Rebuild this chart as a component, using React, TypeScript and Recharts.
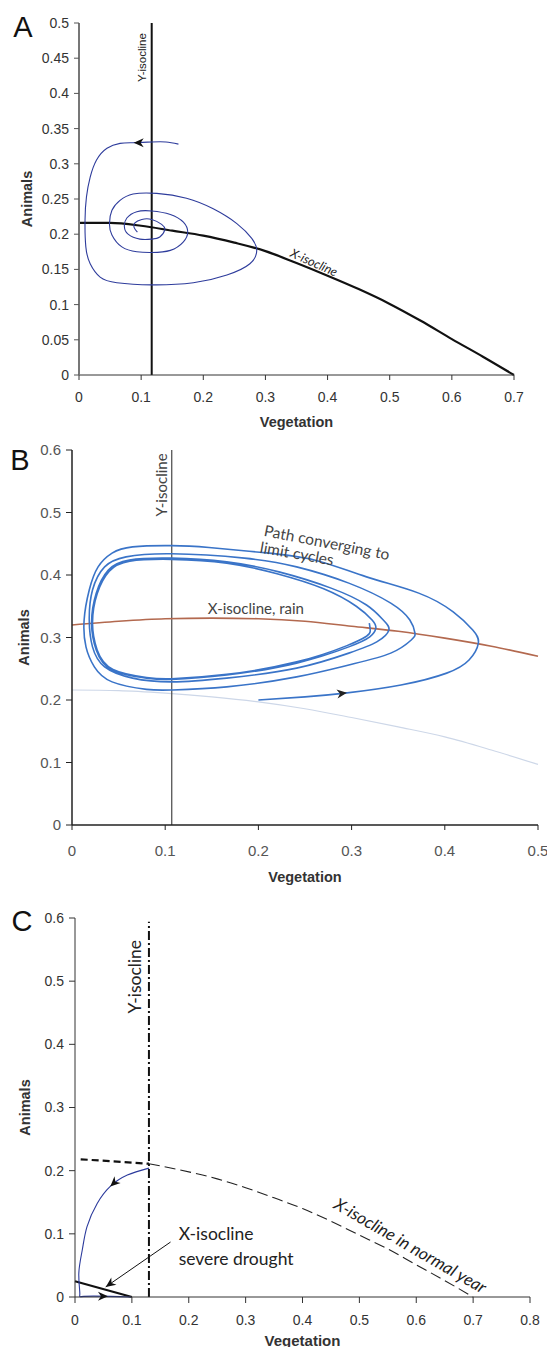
import React from "react";
import { ComposedChart, Line, XAxis, YAxis, ReferenceDot, ReferenceLine } from "recharts";

const ARIAL = "'Liberation Sans', Arial, sans-serif";
const MYRIAD = "Lato, 'Open Sans', sans-serif";

// ---- Panel A
const vegTicksA = [0, 0.1, 0.2, 0.3, 0.4, 0.5, 0.6, 0.7];
const aniTicksA = [0, 0.05, 0.1, 0.15, 0.2, 0.25, 0.3, 0.35, 0.4, 0.45, 0.5];
const yIsoA = 0.117;
const xIsoVegA = [0, 0.05, 0.1, 0.15, 0.2, 0.25, 0.3, 0.35, 0.4, 0.45, 0.5, 0.55, 0.6, 0.65, 0.7];
const xIsoAniA = [0.216, 0.216, 0.212, 0.205, 0.198, 0.188, 0.176, 0.159, 0.141, 0.122, 0.101, 0.077, 0.051, 0.026, 0];
const spiralVegA = [
  0.16, 0.14, 0.117, 0.087, 0.066, 0.045, 0.028, 0.018, 0.012, 0.0097, 0.011, 0.018, 0.034, 0.061, 0.117,
  0.184, 0.238, 0.275, 0.286, 0.278, 0.254, 0.216, 0.173, 0.125, 0.087, 0.066, 0.053, 0.049, 0.053, 0.069,
  0.093, 0.117, 0.147, 0.168, 0.175, 0.168, 0.147, 0.117, 0.093, 0.077, 0.073, 0.079, 0.098, 0.117, 0.13,
  0.138, 0.133, 0.117, 0.101, 0.09, 0.089, 0.094,
];
const spiralAniA = [
  0.328, 0.331, 0.331, 0.33, 0.329, 0.322, 0.305, 0.281, 0.253, 0.22, 0.182, 0.158, 0.139, 0.131, 0.128,
  0.131, 0.142, 0.158, 0.177, 0.194, 0.215, 0.236, 0.251, 0.258, 0.257, 0.248, 0.234, 0.215, 0.199, 0.182,
  0.175, 0.174, 0.177, 0.189, 0.203, 0.217, 0.228, 0.233, 0.232, 0.223, 0.211, 0.2, 0.193, 0.193, 0.196,
  0.206, 0.214, 0.221, 0.221, 0.216, 0.209, 0.203,
];

// ---- Panel B
const vegTicksB = [0, 0.1, 0.2, 0.3, 0.4, 0.5];
const aniTicksB = [0, 0.1, 0.2, 0.3, 0.4, 0.5, 0.6];
const yIsoB = 0.107;
const rainVegB = [0, 0.05, 0.1, 0.15, 0.2, 0.25, 0.3, 0.35, 0.4, 0.45, 0.5];
const rainAniB = [0.32, 0.326, 0.33, 0.331, 0.33, 0.326, 0.318, 0.31, 0.299, 0.286, 0.27];
const normalVegB = [0, 0.05, 0.1, 0.15, 0.2, 0.25, 0.3, 0.35, 0.4, 0.45, 0.5];
const normalAniB = [0.216, 0.215, 0.211, 0.205, 0.197, 0.186, 0.172, 0.157, 0.141, 0.12, 0.097];
const pathVegB = [
  0.2, 0.25, 0.293, 0.353, 0.402, 0.426, 0.436, 0.43, 0.409, 0.372, 0.316, 0.26, 0.204, 0.147, 0.107,
  0.065, 0.043, 0.028, 0.0185, 0.013, 0.015, 0.024, 0.043, 0.08, 0.107, 0.166, 0.241, 0.297, 0.342, 0.364,
  0.368, 0.3625, 0.342, 0.297, 0.241, 0.185, 0.107, 0.058, 0.035, 0.022, 0.0185, 0.022, 0.035, 0.065, 0.107,
  0.166, 0.241, 0.297, 0.327, 0.34, 0.334, 0.316, 0.278, 0.222, 0.166, 0.107, 0.0615, 0.039, 0.026, 0.021,
  0.026, 0.043, 0.08, 0.107, 0.166, 0.241, 0.297, 0.3195, 0.326, 0.322, 0.305, 0.27, 0.22, 0.166, 0.107,
  0.062, 0.04, 0.027, 0.022, 0.027, 0.044, 0.08, 0.107, 0.166, 0.241, 0.295, 0.316, 0.32, 0.319,
];
const pathAniB = [
  0.2, 0.205, 0.211, 0.224, 0.243, 0.264, 0.291, 0.312, 0.341, 0.371, 0.397, 0.424, 0.436, 0.444, 0.447,
  0.445, 0.435, 0.413, 0.376, 0.328, 0.285, 0.253, 0.229, 0.217, 0.216, 0.221, 0.237, 0.256, 0.275, 0.296,
  0.307, 0.328, 0.355, 0.387, 0.413, 0.427, 0.434, 0.429, 0.413, 0.376, 0.328, 0.285, 0.253, 0.235, 0.229,
  0.235, 0.251, 0.275, 0.293, 0.312, 0.328, 0.352, 0.379, 0.405, 0.421, 0.427, 0.424, 0.408, 0.371, 0.323,
  0.28, 0.248, 0.235, 0.233, 0.24, 0.259, 0.285, 0.301, 0.315, 0.328, 0.35, 0.378, 0.402, 0.419, 0.425,
  0.422, 0.406, 0.37, 0.323, 0.28, 0.249, 0.236, 0.234, 0.241, 0.261, 0.287, 0.302, 0.31, 0.323,
];

// ---- Panel C
const vegTicksC = [0, 0.1, 0.2, 0.3, 0.4, 0.5, 0.6, 0.7, 0.8];
const aniTicksC = [0, 0.1, 0.2, 0.3, 0.4, 0.5, 0.6];
const yIsoC = 0.13;
const yIsoTopC = 0.594;
const flatVegC = [0.01, 0.13];
const flatAniC = [0.218, 0.211];
const normalVegC = [0.13, 0.18, 0.25, 0.3, 0.35, 0.4, 0.45, 0.5, 0.55, 0.6, 0.65, 0.7];
const normalAniC = [0.211, 0.202, 0.187, 0.173, 0.157, 0.14, 0.12, 0.098, 0.076, 0.051, 0.026, 0];
const droughtVegC = [0, 0.1];
const droughtAniC = [0.025, 0];
const pathVegC = [0.13, 0.092, 0.062, 0.039, 0.021, 0.0127, 0.0067, 0.0085, 0.0155, 0.062, 0.098];
const pathAniC = [0.204, 0.193, 0.175, 0.148, 0.111, 0.074, 0.037, 0.005, 0.001, 0.001, 0];

const pts = (vs: number[], as: number[]) => vs.map((v, i) => ({ v, a: as[i] }));

const tickStyle = (size: number, fill = "#333") => ({ fill, fontSize: size, fontFamily: ARIAL });

const xTitle = (dy: number, size: number) => (p: any) => {
  const { x, y, width } = p.viewBox;
  return (
    <text x={x + width / 2} y={y + dy} textAnchor="middle" dominantBaseline="central"
      fontFamily={ARIAL} fontWeight="bold" fontSize={size} fill="#333">Vegetation</text>
  );
};

const yTitle = (dx: number, size: number) => (p: any) => {
  const { x, y, width, height } = p.viewBox;
  const cx = x + width - dx;
  const cy = y + height / 2;
  return (
    <text x={cx} y={cy} transform={`rotate(-90 ${cx} ${cy})`} textAnchor="middle" dominantBaseline="central"
      fontFamily={ARIAL} fontWeight="bold" fontSize={size} fill="#333">Animals</text>
  );
};

type NoteOpts = { rot?: number; size: number; color?: string; italic?: boolean; family?: string; anchor?: "start" | "middle" | "end" };
const note = (text: string, o: NoteOpts) => (p: any) => (
  <text x={p.cx} y={p.cy} transform={o.rot ? `rotate(${o.rot} ${p.cx} ${p.cy})` : undefined}
    textAnchor={o.anchor ?? "middle"} dominantBaseline="central" fontSize={o.size}
    fontFamily={o.family ?? MYRIAD} fontStyle={o.italic ? "italic" : "normal"} fill={o.color ?? "#222"}>
    {text}
  </text>
);

const head = (deg: number, color = "#111") => (p: any) => (
  <path d="M0,0 L-10,-4.5 L-7,0 L-10,4.5 Z" transform={`translate(${p.cx},${p.cy}) rotate(${deg})`} fill={color} />
);

function PanelA() {
  return (
    <ComposedChart width={547} height={440} margin={{ top: 23, right: 33, left: 29, bottom: 5 }}>
      <XAxis type="number" dataKey="v" domain={[0, 0.7]} ticks={vegTicksA} interval={0} tickSize={5} tickMargin={12}
        stroke="#333" tick={tickStyle(14)} height={60} label={{ value: "Vegetation", content: xTitle(47, 14.5) }} />
      <YAxis type="number" domain={[0, 0.5]} ticks={aniTicksA} interval={0} tickSize={5} tickMargin={5} width={50}
        axisLine={{ stroke: "#777", strokeWidth: 2 }} tickLine={{ stroke: "#555" }} tick={tickStyle(14)}
        label={{ value: "Animals", content: yTitle(52, 14.5) }} />
      <Line data={pts(xIsoVegA, xIsoAniA)} dataKey="a" type="monotone" stroke="#111" strokeWidth={2.2} dot={false} isAnimationActive={false} />
      <Line data={pts([yIsoA, yIsoA], [0, 0.5])} dataKey="a" type="linear" stroke="#111" strokeWidth={2} dot={false} isAnimationActive={false} />
      <Line data={pts(spiralVegA, spiralAniA)} dataKey="a" type="natural" stroke="#2e3c9c" strokeWidth={1.1} dot={false} isAnimationActive={false} />
      <ReferenceDot x={0.088} y={0.330} r={0} shape={head(180)} />
      <ReferenceDot x={0.1015} y={0.451} r={0} shape={note("Y-isocline", { rot: -90, size: 11.5, family: ARIAL })} />
      <ReferenceDot x={0.378} y={0.160} r={0} shape={note("X-isocline", { rot: 24, size: 12.5, italic: true })} />
    </ComposedChart>
  );
}

function PanelB() {
  return (
    <ComposedChart width={547} height={450} margin={{ top: 10, right: 9, left: 22, bottom: 5 }}>
      <XAxis type="number" dataKey="v" domain={[0, 0.5]} ticks={vegTicksB} interval={0} tickSize={5} tickMargin={15}
        axisLine={{ stroke: "#222", strokeWidth: 1.5 }} tickLine={{ stroke: "#222" }} tick={tickStyle(15, "#555")} height={60}
        label={{ value: "Vegetation", content: xTitle(52, 14.5) }} />
      <YAxis type="number" domain={[0, 0.6]} ticks={aniTicksB} interval={0} tickSize={6} tickMargin={5} width={50}
        axisLine={{ stroke: "#222", strokeWidth: 1.5 }} tickLine={{ stroke: "#222" }} tick={tickStyle(15, "#555")}
        label={{ value: "Animals", content: yTitle(48, 14.5) }} />
      <Line data={pts(normalVegB, normalAniB)} dataKey="a" type="monotone" stroke="#cdd7e8" strokeWidth={1.2} dot={false} isAnimationActive={false} />
      <Line data={pts([yIsoB, yIsoB], [0, 0.6])} dataKey="a" type="linear" stroke="#555" strokeWidth={1.3} dot={false} isAnimationActive={false} />
      <Line data={pts(rainVegB, rainAniB)} dataKey="a" type="monotone" stroke="#b3694f" strokeWidth={1.6} dot={false} isAnimationActive={false} />
      <Line data={pts(pathVegB, pathAniB)} dataKey="a" type="natural" stroke="#3a74c8" strokeWidth={1.6} dot={false} isAnimationActive={false} />
      <ReferenceDot x={0.295} y={0.2115} r={0} shape={head(-7, "#222")} />
      <ReferenceDot x={0.0957} y={0.544} r={0} shape={note("Y-isocline", { rot: -90, size: 15, color: "#444" })} />
      <ReferenceDot x={0.2736} y={0.4528} r={0} shape={note("Path converging to", { rot: 11, size: 15.5, color: "#444" })} />
      <ReferenceDot x={0.2415} y={0.435} r={0} shape={note("limit cycles", { rot: 10, size: 15.5, color: "#444" })} />
      <ReferenceDot x={0.1973} y={0.347} r={0} shape={note("X-isocline, rain", { size: 15, color: "#444" })} />
    </ComposedChart>
  );
}

function PanelC() {
  return (
    <ComposedChart width={547} height={457} margin={{ top: 28, right: 17, left: 25, bottom: 4 }}>
      <XAxis type="number" dataKey="v" domain={[0, 0.8]} ticks={vegTicksC} interval={0} tickSize={6} tickMargin={12}
        stroke="#333" tick={tickStyle(14)} height={46} label={{ value: "Vegetation", content: xTitle(43, 15) }} />
      <YAxis type="number" domain={[0, 0.6]} ticks={aniTicksC} interval={0} tickSize={6} tickMargin={5} width={50}
        stroke="#333" tick={tickStyle(14)} label={{ value: "Animals", content: yTitle(50, 14.5) }} />
      <Line data={pts(flatVegC, flatAniC)} dataKey="a" type="linear" stroke="#111" strokeWidth={2.2} strokeDasharray="7 4" dot={false} isAnimationActive={false} />
      <Line data={pts(normalVegC, normalAniC)} dataKey="a" type="monotone" stroke="#222" strokeWidth={1.1} strokeDasharray="11 5" dot={false} isAnimationActive={false} />
      <Line data={pts([yIsoC, yIsoC], [0, yIsoTopC])} dataKey="a" type="linear" stroke="#111" strokeWidth={2} strokeDasharray="9 3 2 3" dot={false} isAnimationActive={false} />
      <Line data={pts(droughtVegC, droughtAniC)} dataKey="a" type="linear" stroke="#111" strokeWidth={2.2} dot={false} isAnimationActive={false} />
      <Line data={pts(pathVegC, pathAniC)} dataKey="a" type="natural" stroke="#2b3a9c" strokeWidth={1.1} dot={false} isAnimationActive={false} />
      <ReferenceDot x={0.062} y={0.175} r={0} shape={head(137)} />
      <ReferenceDot x={0.058} y={0.001} r={0} shape={head(0)} />
      <ReferenceLine segment={[{ x: 0.168, y: 0.087 }, { x: 0.054, y: 0.016 }]} stroke="#111" strokeWidth={1} />
      <ReferenceDot x={0.054} y={0.016} r={0} shape={head(145)} />
      <ReferenceDot x={0.105} y={0.507} r={0} shape={note("Y-isocline", { rot: -90, size: 17.5 })} />
      <ReferenceDot x={0.1823} y={0.101} r={0} shape={note("X-isocline", { size: 17.5, anchor: "start" })} />
      <ReferenceDot x={0.1823} y={0.0614} r={0} shape={note("severe drought", { size: 17.5, anchor: "start" })} />
      <ReferenceDot x={0.59} y={0.082} r={0} shape={note("X-isocline in normal year", { rot: 30, size: 17, italic: true })} />
    </ComposedChart>
  );
}

export default function App() {
  return (
    <div style={{ position: "absolute", left: 0, top: 0, width: 547, height: 1347, background: "#fff", overflow: "hidden" }}>
      <div style={{ position: "absolute", left: 0, top: 0 }}><PanelA /></div>
      <div style={{ position: "absolute", left: 0, top: 440 }}><PanelB /></div>
      <div style={{ position: "absolute", left: 0, top: 890 }}><PanelC /></div>
      <svg width={547} height={1347} style={{ position: "absolute", left: 0, top: 0, pointerEvents: "none" }}>
        <text x={23} y={36.5} textAnchor="middle" fontFamily={ARIAL} fontSize={29} fill="#111">A</text>
        <text x={20} y={469.5} textAnchor="middle" fontFamily={ARIAL} fontSize={29} fill="#111">B</text>
        <text x={22} y={931} textAnchor="middle" fontFamily={ARIAL} fontSize={29} fill="#111">C</text>
      </svg>
    </div>
  );
}
